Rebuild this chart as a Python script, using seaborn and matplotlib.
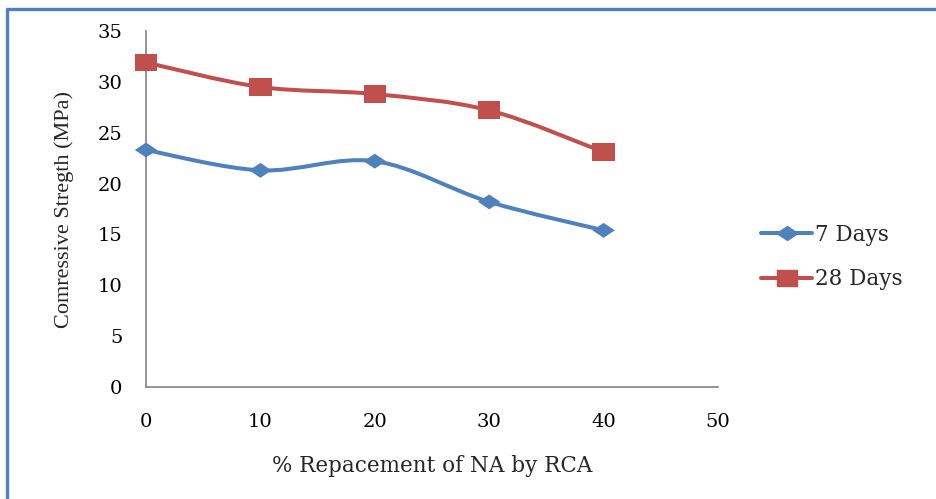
import numpy as np
import pandas as pd
import seaborn as sns
import matplotlib
matplotlib.use("Agg")
import matplotlib.pyplot as plt
from matplotlib.path import Path
from matplotlib.patches import PathPatch
from matplotlib.lines import Line2D

# Data: compressive strength vs. % replacement of natural aggregate by RCA
replacement = [0, 10, 20, 30, 40]
days7 = [23.3, 21.3, 22.2, 18.2, 15.4]
days28 = [31.9, 29.5, 28.8, 27.2, 23.1]
series_names = ["7 Days", "28 Days"]
x_ticks = [0, 10, 20, 30, 40, 50]
y_ticks = [0, 5, 10, 15, 20, 25, 30, 35]

BLUE = "#4F81BD"
RED = "#C0504D"
SERIF = ["DejaVu Serif", "Liberation Serif"]

sns.set_theme(style="white")
plt.rcParams["font.family"] = SERIF

# Wide diamond and wide square markers
DIAMOND = [(-1.5, 0), (0, 1), (1.5, 0), (0, -1), (-1.5, 0)]
SQUARE = [(-1.25, -1), (1.25, -1), (1.25, 1), (-1.25, 1), (-1.25, -1)]

df = pd.DataFrame({
    "x": replacement * 2,
    "y": days7 + days28,
    "series": [series_names[0]] * 5 + [series_names[1]] * 5,
})

fig = plt.figure(figsize=(9.36, 4.99), dpi=100)
ax = fig.add_axes([146 / 936, 1 - 387 / 499, (718 - 146) / 936, (387 - 31) / 499])


def smooth_path(xs, ys):
    """Cubic Bezier path through the points (Catmull-Rom style smoothing)."""
    pts = np.column_stack([xs, ys]).astype(float)
    n = len(pts)
    verts = [pts[0]]
    codes = [Path.MOVETO]
    for i in range(n - 1):
        p0 = pts[i - 1] if i > 0 else pts[i]
        p1 = pts[i]
        p2 = pts[i + 1]
        p3 = pts[i + 2] if i + 2 < n else pts[i + 1]
        c1 = p1 + (p2 - p0) / 6.0
        c2 = p2 - (p3 - p1) / 6.0
        verts += [c1, c2, p2]
        codes += [Path.CURVE4] * 3
    return Path(verts, codes)


for vals, color in [(days7, BLUE), (days28, RED)]:
    ax.add_patch(PathPatch(smooth_path(replacement, vals), facecolor="none",
                           edgecolor=color, lw=2.9, zorder=2,
                           capstyle="round", clip_on=False))

sns.scatterplot(data=df, x="x", y="y", hue="series", style="series",
                palette={series_names[0]: BLUE, series_names[1]: RED},
                markers={series_names[0]: DIAMOND, series_names[1]: SQUARE},
                s=110, linewidth=0, legend=False, ax=ax, zorder=3)
for coll, sz in zip(ax.collections, [260, 270]):
    coll.set_sizes([sz])
    coll.set_clip_on(False)

ax.set_xlim(0, 50)
ax.set_ylim(0, 35)
ax.set_xticks(x_ticks)
ax.set_yticks(y_ticks)
ax.tick_params(axis="both", length=0, labelsize=14, colors="black")
ax.tick_params(axis="x", pad=19)
ax.tick_params(axis="y", pad=17)
for side in ["top", "right"]:
    ax.spines[side].set_visible(False)
for side in ["left", "bottom"]:
    ax.spines[side].set_color("#8C8C8C")
    ax.spines[side].set_linewidth(1.3)
    ax.spines[side].set_zorder(1)
ax.grid(False)
ax.set_facecolor("white")

ax.set_xlabel("% Repacement of NA by RCA", fontsize=15.5, labelpad=17)
ax.set_ylabel("Comressive Stregth (MPa)", fontsize=16, labelpad=17,
              family=["Liberation Serif", "DejaVu Serif"])

handles = [
    Line2D([0], [0], color=BLUE, lw=2.9, marker=DIAMOND, markersize=15),
    Line2D([0], [0], color=RED, lw=2.9, marker=SQUARE, markersize=15),
]
fig.legend(handles, series_names, loc="center left",
           bbox_to_anchor=(750 / 936, 1 - 257 / 499), frameon=False,
           fontsize=15.5, handlelength=2.4, handletextpad=0.1,
           labelspacing=1.05, borderpad=0)

# Frame around the figure panel
fig.add_artist(Line2D([7 / 936, 7 / 936], [0, 1 - 8.5 / 499],
                      transform=fig.transFigure, color=BLUE, lw=2.4))
fig.add_artist(Line2D([7 / 936, 1], [1 - 8.5 / 499, 1 - 8.5 / 499],
                      transform=fig.transFigure, color=BLUE, lw=2.4))

fig.savefig("out.png", dpi=100, facecolor="white")
